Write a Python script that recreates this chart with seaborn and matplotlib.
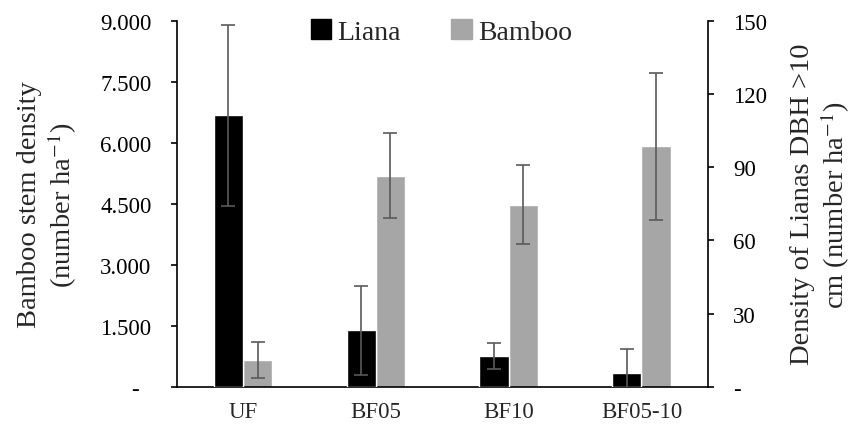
import matplotlib
matplotlib.use("Agg")
import matplotlib.pyplot as plt
import seaborn as sns
import pandas as pd
import numpy as np
from matplotlib.patches import Patch
from matplotlib.ticker import FuncFormatter

sites = ["UF", "BF05", "BF10", "BF05-10"]
series = ["Liana", "Bamboo"]
liana_density = [111.3, 23.2, 12.5, 5.6]      # right axis (number ha-1)
liana_err = [37.1, 18.2, 5.3, 10.0]
bamboo_density = [656, 5190, 4480, 5910]      # left axis (number ha-1)
bamboo_err = [440, 1040, 970, 1800]
left_ticks = [0, 1500, 3000, 4500, 6000, 7500, 9000]
right_ticks = [0, 30, 60, 90, 120, 150]

colors = {"Liana": "#000000", "Bamboo": "#a6a6a6"}
err_color = "#5a5a5a"

sns.set_style("white")
plt.rcParams["font.family"] = ["Liberation Serif", "DejaVu Serif"]
plt.rcParams["mathtext.fontset"] = "stix"

df = pd.DataFrame({
    "site": sites * 2,
    "series": ["Liana"] * 4 + ["Bamboo"] * 4,
    "left": [np.nan] * 4 + bamboo_density,
    "right": liana_density + [np.nan] * 4,
})

fig = plt.figure(figsize=(8.57, 4.27), dpi=100)
ax = fig.add_axes([0.206, 0.092, 0.620, 0.857])
ax2 = ax.twinx()

sns.barplot(data=df, x="site", y="left", hue="series", hue_order=series,
            order=sites, palette=colors, width=0.44, gap=0, errorbar=None,
            ax=ax, legend=False, saturation=1)
sns.barplot(data=df, x="site", y="right", hue="series", hue_order=series,
            order=sites, palette=colors, width=0.44, gap=0, errorbar=None,
            ax=ax2, legend=False, saturation=1)

def add_err(axis, vals, errs):
    pats = [p for p in axis.patches if p.get_height() > 0 and not np.isnan(p.get_height())]
    pats = sorted(pats, key=lambda p: p.get_x())
    for p, v, e in zip(pats, vals, errs):
        xc = p.get_x() + p.get_width() / 2
        axis.errorbar(xc, v, yerr=e, color=err_color, capsize=5,
                      elinewidth=1.2, capthick=1.2, zorder=5)

add_err(ax, bamboo_density, bamboo_err)
add_err(ax2, liana_density, liana_err)

ax.set_ylim(0, 9000)
ax2.set_ylim(0, 150)
ax.set_xlim(-0.5, 3.5)
ax.set_yticks(left_ticks)
ax2.set_yticks(right_ticks)

def lfmt(v, pos):
    if v == 0:
        return "-  "
    return f"{int(v):,}".replace(",", ".")

def rfmt(v, pos):
    if v == 0:
        return "-"
    return f"{int(v)}"

ax.yaxis.set_major_formatter(FuncFormatter(lfmt))
ax2.yaxis.set_major_formatter(FuncFormatter(rfmt))

for a in (ax, ax2):
    a.spines["top"].set_visible(False)
    for s in a.spines.values():
        s.set_color("black")
        s.set_linewidth(1.2)
    a.tick_params(axis="y", labelsize=16.5, length=4, width=1.2, direction="out",
                  colors="black")
    a.tick_params(axis="x", labelsize=16.5, length=0, pad=10)
    a.set_xlabel("")

ax.tick_params(axis="y", pad=14)
ax2.tick_params(axis="y", pad=14)

ax.spines["right"].set_visible(False)
ax2.spines["left"].set_visible(False)
ax2.spines["bottom"].set_visible(False)

ax.set_ylabel("Bamboo stem density\n(number ha$^{-1}$)", fontsize=20.5,
              linespacing=1.15)
ax2.set_ylabel("Density of Lianas DBH >10\ncm (number ha$^{-1}$)", fontsize=20.5,
               rotation=90, linespacing=1.15)
ax.yaxis.set_label_coords(-0.183, 0.5)
ax2.yaxis.set_label_coords(1.155, 0.5)

handles = [Patch(facecolor=colors[s], edgecolor=colors[s], label=s) for s in series]
fig.legend(handles=handles, loc="center", bbox_to_anchor=(0.515, 0.923), ncol=2,
           frameon=False, fontsize=20, handlelength=0.75, handleheight=0.75,
           handletextpad=0.22, columnspacing=1.8)

fig.savefig("out.png", dpi=100)
